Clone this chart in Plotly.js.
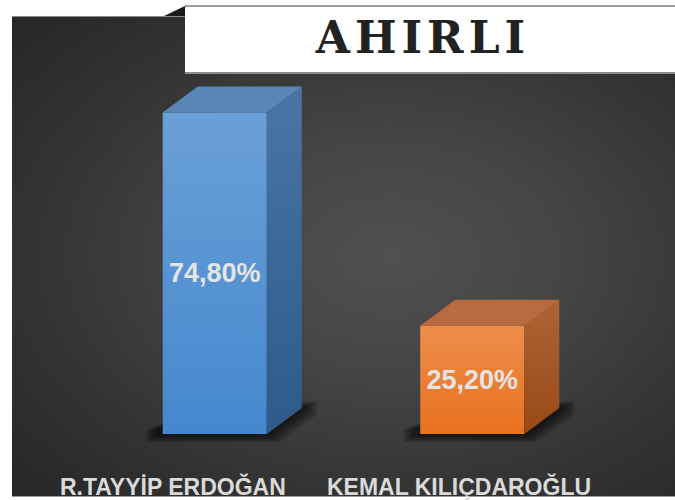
<!DOCTYPE html>
<html>
<head>
<meta charset="utf-8">
<script src="https://cdn.plot.ly/plotly-3.0.1.min.js"></script>
<style>
  html, body { margin: 0; padding: 0; background: #ffffff; }
  #stage { position: relative; width: 675px; height: 500px; overflow: hidden; }
  #panel {
    position: absolute; left: 12px; top: 16px; width: 663px; height: 481px;
    box-sizing: border-box;
    background: radial-gradient(ellipse 75% 70% at 57% 50%, #505050 0%, #454545 35%, #343434 70%, #282828 100%);
    border-top: 1px solid #8a8a8a; border-bottom: 1px solid #9a9a9a;
  }
  #banner {
    position: absolute; left: 185px; top: 5px; width: 490px; height: 69px;
    box-sizing: border-box; background: #ffffff;
    border-top: 2px solid #9c9c9c; border-bottom: 2px solid #8c8c8c;
  }
  #fold {
    position: absolute; left: 164px; top: 6px; width: 0; height: 0;
    border-left: 21px solid transparent; border-bottom: 10px solid #1b1b1b;
  }
  #chart { position: absolute; left: 0; top: 0; width: 675px; height: 500px; }
</style>
</head>
<body>
<div id="stage">
  <div id="panel"></div>
  <div id="fold"></div>
  <div id="banner"></div>
  <div id="chart"></div>
</div>
<script>
// Vote shares per candidate
const candidates = ['R.TAYYİP ERDOĞAN', 'KEMAL KILIÇDAROĞLU'];
const shares = [74.80, 25.20];
const shareText = shares.map(v => v.toFixed(2).replace('.', ',') + '%');

// Face colours for the pseudo-3D boxes
const frontColors = ['#4588ce', '#e9711f'];
const topColors = ['#5986b7', '#b86b40'];
const sideBottom = ['#2c5a8b', '#984916'];
const sideTop = ['#4a75a4', '#ae6436'];

// Plot geometry
const W = 675, H = 500;
const M = { l: 86, r: 74, t: 60, b: 53 };
const X_RANGE = [-0.5, 1.5];
const Y_RANGE = [-3, 87];
const BAR_W = 0.404;
const pxPerX = (W - M.l - M.r) / (X_RANGE[1] - X_RANGE[0]);
const pxPerY = (H - M.t - M.b) / (Y_RANGE[1] - Y_RANGE[0]);
// box depth, pixels converted to axis units
const DX = 35 / pxPerX;
const DY = 26 / pxPerY;
// category label nudges (px)
const LABEL_XSHIFT = [-42, -13];

const xs = shares.map((_, i) => i);

const traces = [];

// front faces
traces.push({
  type: 'bar',
  x: xs,
  y: shares,
  width: BAR_W,
  marker: { color: frontColors, line: { width: 0 } },
  text: shareText,
  textposition: 'inside',
  insidetextanchor: 'middle',
  textangle: 0,
  constraintext: 'none',
  textfont: { family: 'Liberation Sans, Arial, sans-serif', size: 27, color: '#e2e2e2', weight: 'bold' },
  hoverinfo: 'skip'
});

shares.forEach((v, i) => {
  const x0 = i - BAR_W / 2, x1 = i + BAR_W / 2;
  // soft highlight toward the top of the front face
  traces.push({
    type: 'scatter', mode: 'lines',
    x: [x0, x1, x1, x0, x0], y: [0, 0, v, v, 0],
    fill: 'toself', line: { width: 0 },
    fillgradient: { type: 'vertical', colorscale: [[0, 'rgba(255,255,255,0)'], [1, 'rgba(255,255,255,0.2)']] },
    hoverinfo: 'skip'
  });
  // side face
  traces.push({
    type: 'scatter', mode: 'lines',
    x: [x1, x1 + DX, x1 + DX, x1, x1], y: [0, DY, v + DY, v, 0],
    fill: 'toself', line: { width: 0 },
    fillgradient: { type: 'vertical', colorscale: [[0, sideBottom[i]], [1, sideTop[i]]] },
    hoverinfo: 'skip'
  });
});

const shapes = [];
shares.forEach((v, i) => {
  const x0 = i - BAR_W / 2, x1 = i + BAR_W / 2;
  // floor shadow, stacked thin layers for a soft edge
  [6, 5, 4, 3, 2, 1].forEach(k => {
    const gx = (2 * k) / pxPerX, gy = (1.2 * k) / pxPerY;
    const left = x0 - 5 / pxPerX - gx;
    const right = x1 + DX + 3 / pxPerX + gx;
    const bottom = -1 / pxPerY - gy;
    shapes.push({
      type: 'path', xref: 'x', yref: 'y', layer: 'below',
      path: `M${left},${bottom} L${x1 + gx},${bottom} ` +
            `L${right},${DY - gy} L${right},${DY + gy} L${x0 + DX},${DY} L${left},${4 / pxPerY} Z`,
      fillcolor: 'rgba(0,0,0,0.13)', line: { width: 0 }
    });
  });
  // top face
  shapes.push({
    type: 'path', xref: 'x', yref: 'y', layer: 'above',
    path: `M${x0},${v} L${x0 + DX},${v + DY} L${x1 + DX},${v + DY} L${x1},${v} Z`,
    fillcolor: topColors[i], line: { width: 0 }
  });
});

const annotations = candidates.map((name, i) => ({
  x: i, xref: 'x', y: 0, yref: 'paper',
  text: name, showarrow: false,
  xanchor: 'center', yanchor: 'middle',
  xshift: LABEL_XSHIFT[i], yshift: -39,
  font: { family: 'Liberation Sans, Arial, sans-serif', size: 23, color: '#dadada', weight: 'bold' }
}));

const layout = {
  width: W, height: H,
  margin: M,
  paper_bgcolor: 'rgba(0,0,0,0)',
  plot_bgcolor: 'rgba(0,0,0,0)',
  showlegend: false,
  hovermode: false,
  title: {
    text: '<span style="letter-spacing:5px">AHIRLI</span>',
    font: { family: 'DejaVu Serif, serif', size: 44, color: '#222222', weight: 'bold' },
    x: 423 / W, xanchor: 'center', xref: 'container',
    y: 1 - 38 / H, yanchor: 'middle', yref: 'container'
  },
  xaxis: { range: X_RANGE, showgrid: false, zeroline: false, showticklabels: false, ticks: '', fixedrange: true },
  yaxis: { range: Y_RANGE, showgrid: false, zeroline: false, showticklabels: false, ticks: '', fixedrange: true },
  shapes: shapes,
  annotations: annotations
};

Plotly.newPlot('chart', traces, layout, { displayModeBar: false, staticPlot: true });
</script>
</body>
</html>
